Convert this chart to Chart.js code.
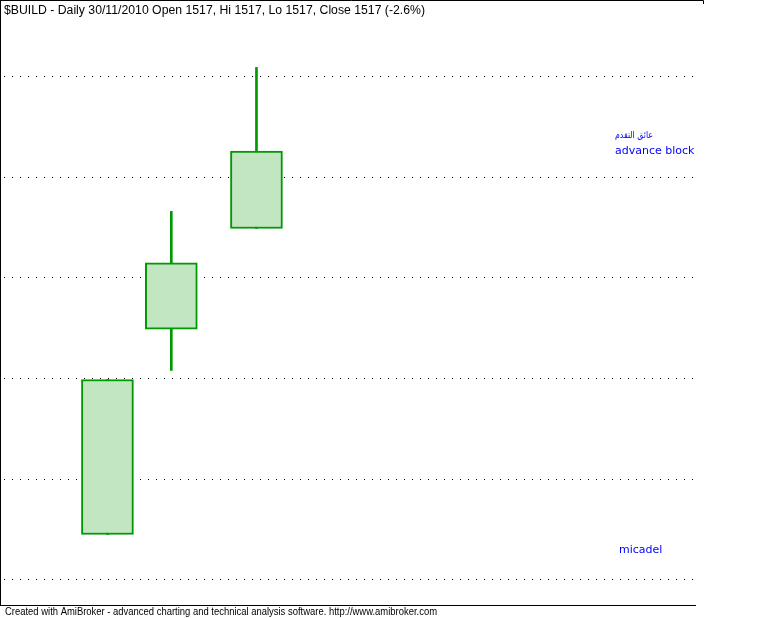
<!DOCTYPE html>
<html>
<head>
<meta charset="utf-8">
<script src="https://cdn.jsdelivr.net/npm/chart.js@4"></script>
<style>
  html, body { margin: 0; padding: 0; background: #fff; }
  #wrap { width: 764px; height: 618px; }
</style>
</head>
<body>
<div id="wrap"><canvas id="myChart" width="764" height="618"></canvas></div>
<script>
// bar index of each candle
const barIndex = [5, 8, 12];
const opens  = [145, 349, 449];
const closes = [299, 415, 526];
const highs  = [299, 466, 609];
const lows   = [145, 308, 449];
const gridValues = [100, 200, 300, 400, 500, 600];

const titleText = '$BUILD - Daily 30/11/2010 Open 1517, Hi 1517, Lo 1517, Close 1517 (-2.6%)';
const footerText = 'Created with AmiBroker - advanced charting and technical analysis software. http://www.amibroker.com';

const bodies = barIndex.map((x, i) => ({ x: x, y: [opens[i], closes[i]] }));
const wicks = barIndex.map((x, i) => ({ x: x, y: [lows[i], highs[i]] }));

// draw text squeezed to a given width
function fitText(ctx, txt, x, y, w) {
  const m = ctx.measureText(txt).width;
  ctx.save();
  ctx.translate(x, y);
  ctx.scale(w / m, 1);
  ctx.fillText(txt, 0, 0);
  ctx.restore();
}

// frame + texts, AmiBroker style
const decor = {
  id: 'decor',
  afterDraw(chart) {
    const ctx = chart.ctx;
    const a = chart.chartArea;
    ctx.save();
    ctx.strokeStyle = '#000';
    ctx.lineWidth = 1;
    ctx.beginPath();
    ctx.moveTo(0.5, 0);
    ctx.lineTo(0.5, a.bottom + 1);
    ctx.moveTo(0, 0.5);
    ctx.lineTo(703.5, 0.5);
    ctx.lineTo(703.5, 4);
    ctx.moveTo(0, a.bottom + 0.5);
    ctx.lineTo(a.right + 1, a.bottom + 0.5);
    ctx.stroke();

    ctx.fillStyle = '#000';
    ctx.textBaseline = 'alphabetic';
    ctx.font = '12px "Liberation Sans", Arial, sans-serif';
    fitText(ctx, titleText, 4, 14, 421);

    ctx.font = '11px "Liberation Sans", sans-serif';
    fitText(ctx, footerText, 5, 615, 432);

    ctx.fillStyle = '#0000ff';
    ctx.font = '9px "DejaVu Sans", sans-serif';
    fitText(ctx, 'عائق التقدم', 615, 138, 38);
    ctx.font = '11px "DejaVu Sans", sans-serif';
    ctx.fillText('advance block', 615, 154);
    ctx.fillText('micadel', 619, 553);
    ctx.restore();
  }
};

const config = {
  type: 'bar',
  data: {
    datasets: [{
      label: 'body',
      data: bodies,
      backgroundColor: '#c2e5c2',
      borderColor: '#009900',
      borderWidth: 2,
      borderSkipped: false,
      barThickness: 52,
      grouped: false
    }, {
      label: 'wick',
      data: wicks,
      backgroundColor: '#009900',
      borderWidth: 0,
      barThickness: 2,
      grouped: false
    }]
  },
  options: {
    responsive: false,
    animation: false,
    devicePixelRatio: 1,
    layout: { padding: { left: 1, top: 1, right: 69, bottom: 13 } },
    plugins: {
      legend: { display: false },
      tooltip: { enabled: false },
      title: { display: false }
    },
    scales: {
      x: {
        type: 'linear',
        display: false,
        offset: false,
        min: 0,
        max: 32.6
      },
      y: {
        min: 75,
        max: 675,
        afterBuildTicks: (axis) => {
          axis.ticks = gridValues.map(v => ({ value: v }));
        },
        ticks: { display: false },
        grid: { color: '#000', lineWidth: 1, drawTicks: false },
        border: { display: false, dash: [1, 7], dashOffset: 5 }
      }
    }
  },
  plugins: [decor]
};

new Chart(document.getElementById('myChart'), config);
</script>
</body>
</html>
